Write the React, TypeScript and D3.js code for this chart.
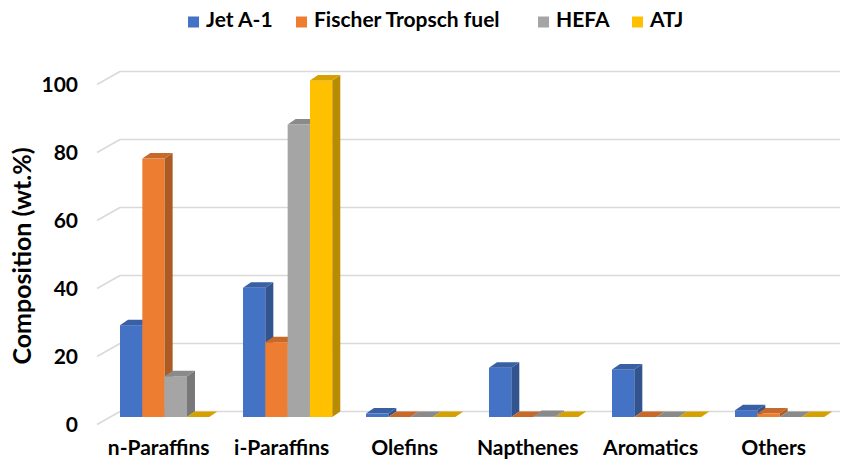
import { scaleBand, scaleLinear, color } from 'd3';

const categories = ['n-Paraffins', 'i-Paraffins', 'Olefins', 'Napthenes', 'Aromatics', 'Others'];
const seriesNames = ['Jet A-1', 'Fischer Tropsch fuel', 'HEFA', 'ATJ'];
const jetA1 = [27, 38, 1, 14.5, 14, 2];
const fischerTropsch = [76, 22, 0, 0, 0, 1];
const hefa = [12, 86, 0, 0.3, 0, 0];
const atj = [0, 99, 0, 0, 0, 0];
const yTicks = [0, 20, 40, 60, 80, 100];

const seriesValues = [jetA1, fischerTropsch, hefa, atj];
const colors = ['#4472C4', '#ED7D31', '#A5A5A5', '#FFC000'];

const W = 844;
const H = 460;
const depthX = 8;
const depthY = -5.5;
const font = 'Lato, "Open Sans", sans-serif';
const legendX = [188, 296, 538, 632];

export default function App() {
  const step = 123;
  const x0 = scaleBand<string>()
    .domain(categories)
    .range([103.15, 103.15 + step * categories.length])
    .paddingInner(0.274)
    .paddingOuter(0.137);
  const x1 = scaleBand<string>().domain(seriesNames).range([0, x0.bandwidth()]).padding(0);
  const y = scaleLinear().domain([0, 100]).range([417, 77]);
  const bw = x1.bandwidth();

  const shade = (c: string, k: number) => color(c)!.darker(k).formatHex();

  return (
    <svg width={W} height={H} style={{ position: 'fixed', left: 0, top: 0, background: '#fff' }} fontFamily={font}>
      {/* walls: gridlines */}
      {yTicks.map((t) => {
        const yb = y(t) + depthY;
        return (
          <g key={t}>
            <line x1={120} x2={840} y1={yb} y2={yb} stroke="#D9D9D9" strokeWidth={1.5} />
            <line x1={97} x2={120} y1={yb + 13} y2={yb} stroke="#D9D9D9" strokeWidth={1.5} />
            <text x={78} y={yb + 15} textAnchor="end" dominantBaseline="middle" fontSize={21} fontWeight="bold" fill="#000">
              {t}
            </text>
          </g>
        );
      })}

      {/* bars */}
      {categories.map((cat, ci) => (
        <g key={cat}>
          {seriesNames.map((s, si) => {
            const v = seriesValues[si][ci];
            const x = x0(cat)! + x1(s)!;
            const yt = y(v);
            const yb = y(0);
            const c = colors[si];
            const top = `${x},${yt} ${x + depthX},${yt + depthY} ${x + bw + depthX},${yt + depthY} ${x + bw},${yt}`;
            const side = `${x + bw},${yt} ${x + bw + depthX},${yt + depthY} ${x + bw + depthX},${yb + depthY} ${x + bw},${yb}`;
            return (
              <g key={s}>
                {v > 0 && <rect x={x} y={yt} width={bw} height={yb - yt} fill={c} />}
                {v > 0 && <polygon points={side} fill={shade(c, 0.9)} />}
                <polygon points={top} fill={shade(c, 0.5)} />
              </g>
            );
          })}
          <text x={x0(cat)! + x0.bandwidth() / 2 - 6} y={455} textAnchor="middle" fontSize={21} fontWeight="bold" fill="#000">
            {cat}
          </text>
        </g>
      ))}

      {/* axis title */}
      <text
        transform={`translate(31, 256) rotate(-90)`}
        textAnchor="middle"
        fontSize={25}
        fontWeight="bold"
        fill="#000"
      >
        Composition (wt.%)
      </text>

      {/* legend */}
      {seriesNames.map((s, i) => (
        <g key={s} transform={`translate(${legendX[i]}, 22)`}>
          <rect x={0} y={-5.5} width={11} height={11} fill={colors[i]} />
          <text x={18} y={0} dominantBaseline="middle" fontSize={21} fontWeight="bold" fill="#000">
            {s}
          </text>
        </g>
      ))}
    </svg>
  );
}
